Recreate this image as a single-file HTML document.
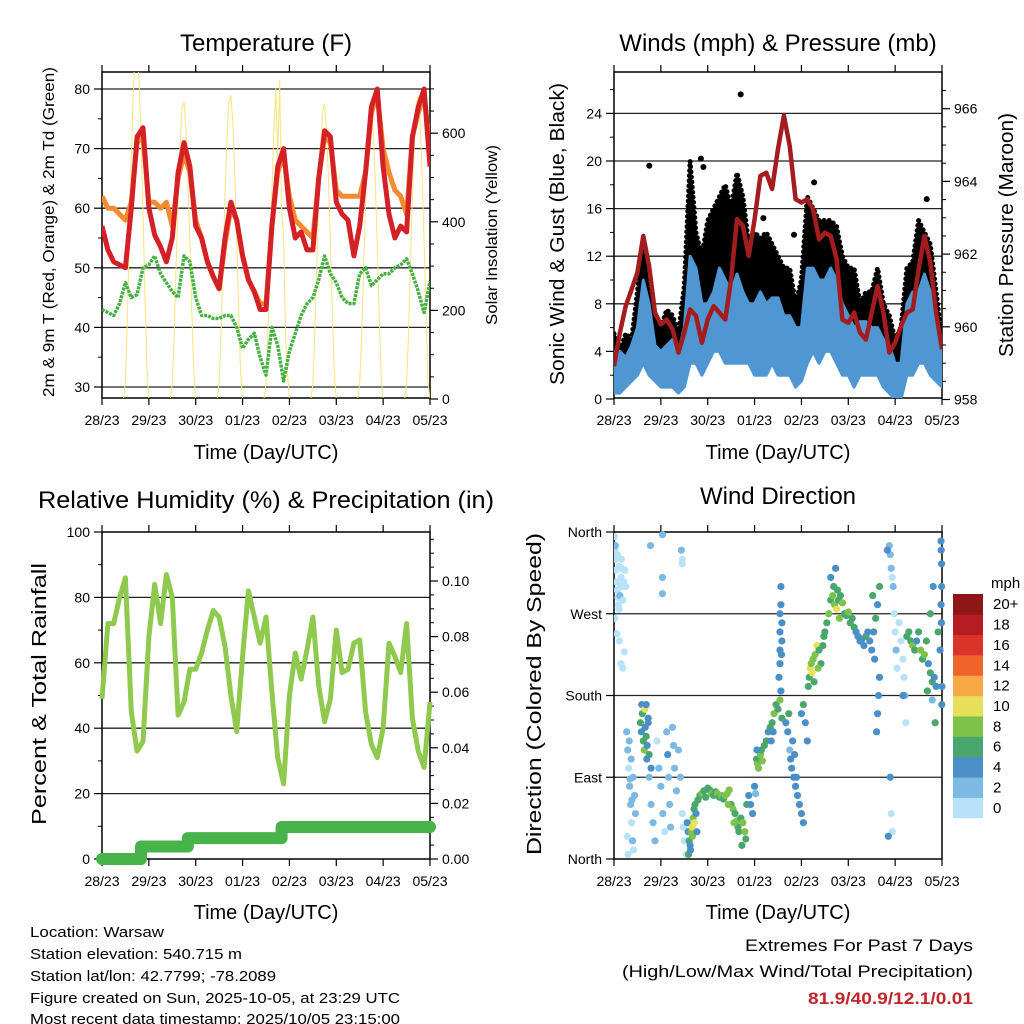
<!DOCTYPE html>
<html><head><meta charset="utf-8"><title>Weather station chart</title>
<style>
html,body{margin:0;padding:0;background:#fff;}
svg{display:block;font-family:"Liberation Sans",Arial,sans-serif;}
</style></head>
<body>
<svg id="chart" width="1024" height="1024" viewBox="0 0 1024 1024" xmlns="http://www.w3.org/2000/svg">
<defs>
<clipPath id="cpT"><rect x="102" y="72" width="328" height="326"/></clipPath>
<clipPath id="cpW"><rect x="614" y="72" width="328" height="326"/></clipPath>
<clipPath id="cpR"><rect x="96" y="532" width="340" height="334"/></clipPath>
<clipPath id="cpD"><rect x="614" y="528" width="332" height="336"/></clipPath>
</defs>
<g id="layer"></g>
<text x="266" y="51" font-size="24" text-anchor="middle">Temperature (F)</text>
<text x="778" y="51" font-size="24" text-anchor="middle">Winds (mph) &amp; Pressure (mb)</text>
<text x="266" y="508" font-size="24" text-anchor="middle" textLength="456" lengthAdjust="spacingAndGlyphs">Relative Humidity (%) &amp; Precipitation (in)</text>
<text x="778" y="504" font-size="24" text-anchor="middle">Wind Direction</text>

<text transform="translate(54,232) rotate(-90)" font-size="16" text-anchor="middle" textLength="330" lengthAdjust="spacingAndGlyphs">2m &amp; 9m T (Red, Orange) &amp; 2m Td (Green)</text>
<text transform="translate(497,235) rotate(-90)" font-size="16" text-anchor="middle" textLength="180" lengthAdjust="spacingAndGlyphs">Solar Insolation (Yellow)</text>
<text transform="translate(564,234) rotate(-90)" font-size="20" text-anchor="middle" textLength="302" lengthAdjust="spacingAndGlyphs">Sonic Wind &amp; Gust (Blue, Black)</text>
<text transform="translate(1013,235) rotate(-90)" font-size="20" text-anchor="middle" textLength="244" lengthAdjust="spacingAndGlyphs">Station Pressure (Maroon)</text>
<text transform="translate(46,694) rotate(-90)" font-size="20" text-anchor="middle" textLength="262" lengthAdjust="spacingAndGlyphs">Percent &amp; Total Rainfall</text>
<text transform="translate(541,694) rotate(-90)" font-size="20" text-anchor="middle" textLength="322" lengthAdjust="spacingAndGlyphs">Direction (Colored By Speed)</text>

<text x="266" y="459" font-size="20" text-anchor="middle">Time (Day/UTC)</text>
<text x="778" y="459" font-size="20" text-anchor="middle">Time (Day/UTC)</text>
<text x="266" y="919" font-size="20" text-anchor="middle">Time (Day/UTC)</text>
<text x="778" y="919" font-size="20" text-anchor="middle">Time (Day/UTC)</text>

<g font-size="15">
<text x="30" y="937" textLength="134" lengthAdjust="spacingAndGlyphs">Location: Warsaw</text>
<text x="30" y="959" textLength="212" lengthAdjust="spacingAndGlyphs">Station elevation: 540.715 m</text>
<text x="30" y="981" textLength="246" lengthAdjust="spacingAndGlyphs">Station lat/lon: 42.7799; -78.2089</text>
<text x="30" y="1003" textLength="370" lengthAdjust="spacingAndGlyphs">Figure created on Sun, 2025-10-05, at 23:29 UTC</text>
<text x="30" y="1024" textLength="370" lengthAdjust="spacingAndGlyphs">Most recent data timestamp: 2025/10/05 23:15:00</text>
</g>
<text x="973" y="951" font-size="17" text-anchor="end" textLength="228" lengthAdjust="spacingAndGlyphs">Extremes For Past 7 Days</text>
<text x="973" y="977" font-size="17" text-anchor="end" textLength="351" lengthAdjust="spacingAndGlyphs">(High/Low/Max Wind/Total Precipitation)</text>
<text x="973" y="1004" font-size="17" font-weight="bold" fill="#c0272d" text-anchor="end" textLength="165" lengthAdjust="spacingAndGlyphs">81.9/40.9/12.1/0.01</text>
<text x="991" y="588" font-size="15">mph</text>
</svg>
<script>
// ---------- data ----------
const dayLabels = ["28/23","29/23","30/23","01/23","02/23","03/23","04/23","05/23"];
const tempTicks = [30,40,50,60,70,80];
const solarTicks = [0,200,400,600];
const windTicks = [0,4,8,12,16,20,24];
const pressTicks = [958,960,962,964,966];
const rhTicks = [0,20,40,60,80,100];
const precipTicks = [0,0.02,0.04,0.06,0.08,0.10];
const dirTicks = [0,90,180,270,360];
const dirLabels = ["North","East","South","West","North"];
const speedBins = ["0","2","4","6","8","10","12","14","16","18","20+"];
const speedColors = ["#b8e2f7","#7db9e3","#4a8fc6","#49a76e","#7dc24a","#e8e05a","#f7a844","#f06329","#dc3328","#b71c22","#8e1518"];

// 3-hourly samples, hour 0..168
const temp2m = [57,53,51,50.5,50,60,72,73.5,60,55.5,53.5,51,55,66,71,67,57,55,51,48.5,46.5,55,61,58,52,48,46,43,43,57,67,70,60,55,56,53,53,65,73,72,61,59,58,52,57,66,77,80,67,59,55,57,56,72,77,80,67];
const temp9m = [62,60,60,59,58,61,71,72,61,61,60,61,57,65,69,66,58,55,51,48.5,46.5,54,60,58,52,48,46,44,44,57,66,69,62,58,57,56,55,65,72,71,63,62,62,62,62,66,76,79,70,66,63,62,59,72,76,79,70];
const dewpoint = [43,42.5,42,44,47.5,45,45.5,50,50.5,52,49,47.5,46,45,52,51,45,42,42,41.5,41.5,42,42,40,36.5,38,39,35,32,40,37,31,36,39,42,44,45,48,52,49,47.5,45,44,44,49,50,47,48,49,49,50,50.5,51.5,49,46,42.5,47.7];
// hourly solar insolation, hour 0..168
const solar = [
0,0,0,0,0,0,0,0,0,0,0,0,40,180,370,540,690,790,800,720,590,420,230,70,
0,0,0,0,0,0,0,0,0,0,0,0,35,150,305,450,575,655,670,610,500,350,195,60,
0,0,0,0,0,0,0,0,0,0,0,0,35,150,310,460,590,670,685,625,510,360,200,60,
0,0,0,0,0,0,0,0,0,0,0,0,35,160,320,470,600,700,540,720,420,370,150,60,
0,0,0,0,0,0,0,0,0,0,0,0,35,150,300,450,570,650,665,605,495,350,190,60,
0,0,0,0,0,0,0,0,0,0,0,0,35,145,295,445,565,645,655,600,490,345,190,55,
0,0,0,0,0,0,0,0,0,0,0,0,35,150,305,455,580,670,685,620,505,355,195,40,0];
const pressure = [958.92,959.84,960.57,961.03,961.49,962.5,961.67,960.39,960.07,960.2,959.93,959.29,959.84,960.48,960.3,959.56,960.2,960.57,960.39,960.2,961.31,962.96,962.78,961.95,962.96,964.15,964.24,963.79,964.89,965.81,964.98,963.51,963.42,963.51,963.23,962.41,962.59,962.5,961.86,960.2,960.11,960.39,959.84,959.65,960.39,961.12,960.39,959.29,959.56,960.02,960.39,960.48,961.58,962.5,961.77,960.39,959.38];
const windLow = [0.5,0.5,1,1.5,2,3,2,1.5,1,1,1,0.5,1,3,3,2,3,4,4,3,3,3,3,3,2,2,2,3,2,2,2,1,1.5,3,4,3,4,4,3,2,2,1,2,2,2,2,1,0.5,0,0,2,2,3,3,2,1.5,1];
const windHigh = [4,4,3.5,4.5,6,10,8,4.5,4,4.5,5,4,6,12,11,8,8,9,11,10,9,10.5,9,8,8,9,8,8.5,8.5,7,7,6,6,11,11,10,10,11,10,8,7,6,6.5,6.5,6,6,5,4.5,3,3,8,9,9,10.5,9,6,4];
const gustLow = [2,1.5,2,2,3,5,4,3,2,2,2,2,4,7,6,5,6,6,7,6,5,6,5,5,5,5,4,4,4,4,3,3,5,6,6,5,6,6,6,5,4,4,4,3,4,4,3,1,0.5,1,4,4,5,6,4,2,2];
const gustHigh = [5.5,4,5.5,5,9,13.5,9,7,6,7.5,7,5.5,9.5,20,14,12,15,16,17,18,16,19,17,13,14,13.5,14,13,12,11,11,8,10,17,16,15,15,15,14.5,12,11,11,8,9,9,11,8,7,5,6,11,11.5,15,14,13,9,5];
const gustOutHours = [18.1,44.5,45.8,64.9,76.5,92.2,102.5,160.2];
const gustOutVals = [19.6,20.2,19.5,25.6,15.2,13.8,18.2,16.8];
const rh = [49,72,72,80,86,45,33,36,68,84,72,87,80,44,48,58,58,63,70,76,74,65,50,39,62,82,74,66,74,51,31,23,50,63,55,64,74,53,42,49,70,57,58,66,67,45,35,31,40,66,62,57,72,43,33,28,48];
const precipHours = [0,20,20,44,44,92,92,168];
const precipVals = [0,0,0.0045,0.0045,0.0075,0.0075,0.0115,0.0115];
// wind direction scatter: hour, degrees, speed (mph)
const dirHours = [0.2,0.5,0.8,1,1.3,1.6,2,2.3,2.6,3,3.3,3.6,4,4.3,4.6,5,0.4,1.5,2.8,3.5,4.5,5.3,0.7,1.8,2.5,3.8,5.5,6,
6.5,7,7.5,8,8.5,9,9.5,10,7.8,8.8,9.8,10.5,11,6.8,7.2,8.2,9.2,
13.5,14,14.5,15,15.5,16,16.5,17,17.5,18,14.2,15.8,16.8,19,
18,19,20,21,22,23,24,25,26,27,27.5,28,28.5,29,30,30.5,31,32,33,34,35,36,37,35.5,
18.7,24.8,24.8,24.8,34.5,35,35,17.5,16.5,
37.5,38,38.5,39,39.5,40,40.5,41,41.5,42,43,44,45,46,47,38.2,39.2,40.2,41.2,42.5,
48,49,50,51,52,53,54,55,56,57,58,59,60,61,62,63,63.5,64,65,66,67,67.5,68,69,70,71,58.5,61.5,65.5,72,72.5,
73,73.5,74,74.5,75,75.5,76,77,78,79,73.2,
80,81,82,83,84,85,86,80.5,81.5,84.5,85,85,85,85,85.5,86,86,85.8,85.5,85.5,
88,89,90,91,92,93,94,90.5,91.5,92.5,93.5,89.5,95,96,97,96,97,98,99,
99.5,100,100.5,101,101.5,102,103,104,105,106,107,107.5,104.5,102.5,
108,109,110,111,112,113,114,115,116,117,111,113.5,112.5,115.5,114.5,
118,119,120,121,122,123,124,125,126,127,128,129,130,131,132,133,134,135,136,135.5,135,134.5,133.5,132.5,136,
141,141.5,142,142.5,143,143.5,144,144.5,145,141.5,142,142.5,140.5,140,
146,147,148,148.5,149,149.5,148,
150,151,152,153,154,155,156,157,158,159,160,161,162,163,164,165,166,167,164.5,163,162,160.5,
167.5,167.6,167.8,167.8,167.5,167.7,168,167.9,163.5];
const dirValues = [355,340,330,318,305,296,288,280,275,290,300,310,320,300,285,305,265,248,240,215,210,228,345,335,322,330,318,300,
140,120,100,80,60,40,20,10,130,110,90,70,50,25,5,88,65,
150,140,160,130,120,145,135,125,155,115,170,165,110,100,
90,60,40,20,130,100,80,50,30,140,115,90,60,35,145,125,100,75,120,90,50,20,5,35,
345,357,310,292,340,330,325,150,170,
40,30,20,15,30,35,45,55,60,50,65,70,72,75,68,5,10,25,40,30,
78,76,72,70,74,72,68,70,66,70,72,76,60,55,50,42,35,30,45,40,30,22,60,70,60,50,60,40,15,80,72,
110,105,100,110,115,120,108,125,130,140,120,
145,150,160,170,165,175,155,130,140,200,230,250,270,215,185,240,260,225,300,280,
150,140,120,100,90,80,70,110,130,115,90,160,60,50,40,160,170,150,130,
190,200,210,215,205,220,225,235,230,215,235,245,210,195,
250,260,270,285,290,280,275,285,290,282,310,320,300,265,296,
270,268,272,260,265,255,250,245,240,242,235,245,250,240,230,250,265,280,200,180,160,140,220,290,300,
345,335,320,310,300,270,250,230,210,90,50,30,25,340,
260,240,220,200,180,150,180,
245,250,240,235,230,240,250,230,220,225,240,215,205,195,200,190,250,230,150,175,270,185,
350,340,325,300,280,260,190,170,300];
const dirSpeeds = [1,1,0,0,1,0,1,0,1,2,1,0,1,0,0,1,0,0,1,0,0,0,2,1,0,1,0,0,
2,2,1,2,2,1,2,1,2,2,2,2,3,1,0,3,3,
6,5,7,6,8,5,6,4,5,6,5,10,4,4,
2,2,2,2,1,2,2,2,1,3,4,3,2,2,2,3,2,2,2,2,1,1,1,0,
2,2,2,2,2,0,0,4,4,
5,4,6,5,8,11,8,6,7,5,6,7,8,6,7,6,4,8,10,5,
6,7,8,7,6,8,7,8,7,9,8,9,7,8,7,8,7,6,7,8,8,7,6,4,4,4,9,8,6,4,3,
7,8,8,7,8,7,8,7,6,4,4,
6,7,8,7,6,8,7,4,4,4,4,4,4,4,4,4,5,4,4,4,
4,4,3,4,4,4,4,5,4,4,4,6,4,4,4,4,6,4,4,
6,7,10,9,10,8,9,11,7,6,6,6,8,6,
7,7,8,7,8,9,10,6,7,8,4,4,6,9,7,
7,6,8,6,7,6,4,4,5,4,5,6,5,4,4,4,6,5,4,4,4,5,4,6,6,
2,2,2,1,2,1,1,2,1,4,1,1,4,4,
1,1,1,1,2,1,4,
6,7,6,8,6,5,7,8,6,9,7,5,7,6,5,4,6,4,6,2,6,6,
4,4,4,4,4,4,4,4,4];

// ---------- helpers ----------
const NS = "http://www.w3.org/2000/svg";
const layer = document.getElementById('layer');
function mk(tag, attrs, parent){
  const e = document.createElementNS(NS, tag);
  for (const k in attrs) e.setAttribute(k, attrs[k]);
  (parent||layer).appendChild(e);
  return e;
}
function grp(name, clip){
  const g = mk('g', clip ? {'clip-path':'url(#'+clip+')'} : {});
  
  
  return g;
}
function pathFrom(xs, ys){
  let d = '';
  for (let i=0;i<xs.length;i++) d += (i?'L':'M') + xs[i].toFixed(1) + ' ' + ys[i].toFixed(1);
  return d;
}
const hours3 = temp2m.map((_,i)=>i*3);

const P = {
  T:{x0:102,x1:430,y0:72,y1:398},
  W:{x0:614,x1:942,y0:72,y1:398},
  R:{x0:102,x1:430,y0:532,y1:859},
  D:{x0:614,x1:942,y0:532,y1:859}
};
function xs(p){ return h => p.x0 + h*(p.x1-p.x0)/168; }
const xT = xs(P.T), xW = xs(P.W), xR = xs(P.R), xD = xs(P.D);
const yTemp = v => 89 + (80-v)*5.96;
const ySolar = v => 399 - v*0.443;
const yWind = v => 399 - v*11.9;
const yPress = v => 399.5 - (v-958)*36.35;
const yRH = v => 859 - v*3.27;
const yPrec = v => 859 - v*2780;
const yDir = v => 859 - v*327/360;

function frame(p, name, leftTicks, leftFn, leftFmt, rightTicks, rightFn, rightFmt, rightMinor, leftMinor){
  const g = grp(name+'-axes');
  leftTicks.forEach(v=>{
    const y = leftFn(v);
    if (y > p.y0+1 && y < p.y1-1) {
      const l = mk('line',{x1:p.x0,x2:p.x1,y1:y,y2:y,stroke:'#222','stroke-width':1.3},g);
      
      
    }
  });
  mk('rect',{x:p.x0,y:p.y0,width:p.x1-p.x0,height:p.y1-p.y0,fill:'none',stroke:'#000','stroke-width':1.5},g);
  dayLabels.forEach((lab,i)=>{
    const x = p.x0 + i*(p.x1-p.x0)/7;
    mk('line',{x1:x,x2:x,y1:p.y1,y2:p.y1+7,stroke:'#000','stroke-width':1.2},g);
    mk('line',{x1:x,x2:x,y1:p.y0,y2:p.y0-7,stroke:'#000','stroke-width':1.2},g);
    const t = mk('text',{x:x,y:p.y1+27,'font-size':14,'text-anchor':'middle'},g);
    t.textContent = lab;
    
    
  });
  leftTicks.forEach((v,i)=>{
    const y = leftFn(v);
    mk('line',{x1:p.x0-8,x2:p.x0,y1:y,y2:y,stroke:'#000','stroke-width':1.2},g);
    const t = mk('text',{x:p.x0-12,y:y+5,'font-size':14,'text-anchor':'end'},g);
    t.textContent = leftFmt(v,i);
    
    
  });
  (leftMinor||[]).forEach(v=>{
    const y = leftFn(v);
    mk('line',{x1:p.x0-4,x2:p.x0,y1:y,y2:y,stroke:'#000','stroke-width':1},g);
  });
  if (rightTicks){
    rightTicks.forEach(v=>{
      const y = rightFn(v);
      mk('line',{x1:p.x1,x2:p.x1+8,y1:y,y2:y,stroke:'#000','stroke-width':1.2},g);
      const t = mk('text',{x:p.x1+12,y:y+5,'font-size':14},g);
      t.textContent = rightFmt(v);
      
      
    });
    (rightMinor||[]).forEach(v=>{
      const y = rightFn(v);
      mk('line',{x1:p.x1,x2:p.x1+4,y1:y,y2:y,stroke:'#000','stroke-width':1},g);
    });
  }
}

// ---------- Temperature panel ----------
frame(P.T,'temperature',tempTicks,yTemp,v=>String(v),solarTicks,ySolar,v=>String(v),
  [50,100,150,250,300,350,450,500,550,650,700],[35,45,55,65,75]);
{
  const g = grp('temperature-series','cpT');
  const sol = mk('path',{d:pathFrom(solar.map((_,i)=>xT(i)), solar.map(ySolar)),fill:'none',stroke:'#fbe37a','stroke-width':1,'stroke-linejoin':'round'},g);
  
  
  const td = mk('path',{d:pathFrom(hours3.map(xT), dewpoint.map(yTemp)),fill:'none',stroke:'#46b040','stroke-width':3.5,'stroke-dasharray':'3 1','stroke-linejoin':'round'},g);
  
  
  const o = mk('path',{d:pathFrom(hours3.map(xT), temp9m.map(yTemp)),fill:'none',stroke:'#f58a30','stroke-width':5,'stroke-linejoin':'round'},g);
  
  
  const r = mk('path',{d:pathFrom(hours3.map(xT), temp2m.map(yTemp)),fill:'none',stroke:'#d42128','stroke-width':5,'stroke-linejoin':'round'},g);
  
  
}

// ---------- Winds panel ----------
frame(P.W,'winds',windTicks,yWind,v=>String(v),pressTicks,yPress,v=>String(v),
  [958.5,959,959.5,960.5,961,961.5,962.5,963,963.5,964.5,965,965.5,966.5],[2,6,10,14,18,22,26]);
{
  const g = grp('winds-series','cpW');
  const xg = hours3.map(xW);
  const gb = mk('path',{d:pathFrom(xg, gustHigh.map(yWind)) + pathFrom(xg.slice().reverse(), gustLow.map(yWind).reverse()).replace('M','L') + 'Z',fill:'#000',stroke:'#000','stroke-width':5,'stroke-linejoin':'round','stroke-linecap':'round','stroke-dasharray':'0.1 5'},g);
  
  
  gustOutHours.forEach((h,i)=>{
    const c = mk('circle',{cx:xW(h),cy:yWind(gustOutVals[i]),r:3,fill:'#000'},g);
    
    
  });
  const wb = mk('path',{d:pathFrom(xg, windHigh.map(yWind)) + pathFrom(xg.slice().reverse(), windLow.map(yWind).reverse()).replace('M','L') + 'Z',fill:'#4f97d3',stroke:'#4f97d3','stroke-width':3,'stroke-linejoin':'round'},g);
  
  
  const pl = mk('path',{d:pathFrom(xg, pressure.map(yPress)),fill:'none',stroke:'#a31d1f','stroke-width':4.5,'stroke-linejoin':'round'},g);
  
  
}

// ---------- Humidity panel ----------
frame(P.R,'humidity',rhTicks,yRH,v=>String(v),precipTicks,yPrec,v=>v.toFixed(2),
  [0.005,0.01,0.015,0.025,0.03,0.035,0.045,0.05,0.055,0.065,0.07,0.075,0.085,0.09,0.095,0.105,0.11,0.115],[10,30,50,70,90]);
{
  const g = grp('humidity-series','cpR');
  const rl = mk('path',{d:pathFrom(hours3.map(xR), rh.map(yRH)),fill:'none',stroke:'#8fca4e','stroke-width':5,'stroke-linejoin':'round'},g);
  
  
  const pr = mk('path',{d:pathFrom(precipHours.map(xR), precipVals.map(yPrec)),fill:'none',stroke:'#46b44a','stroke-width':12,'stroke-linecap':'round','stroke-linejoin':'round'},g);
  
  
}

// ---------- Wind direction panel ----------
frame(P.D,'direction',dirTicks,yDir,(v,i)=>dirLabels[i],null);
{
  const g = grp('direction-points','cpD');
  dirHours.forEach((h,i)=>{
    const bin = Math.min(10, Math.floor(dirSpeeds[i]/2));
    const c = mk('circle',{cx:xD(h),cy:yDir(dirValues[i]),r:3.6,fill:speedColors[bin]},g);
    
    
  });
}
// colorbar
{
  const g = grp('speed-colorbar');
  const top = 594, h = 224/speedBins.length;
  speedBins.forEach((lab,i)=>{
    const k = speedBins.length-1-i;
    const r = mk('rect',{x:953,y:top+k*h,width:30,height:h+0.3,fill:speedColors[i]},g);
    
    
    const t = mk('text',{x:993,y:top+k*h+h/2+5,'font-size':15},g);
    t.textContent = lab;
    
    
  });
}
</script>
</body></html>
